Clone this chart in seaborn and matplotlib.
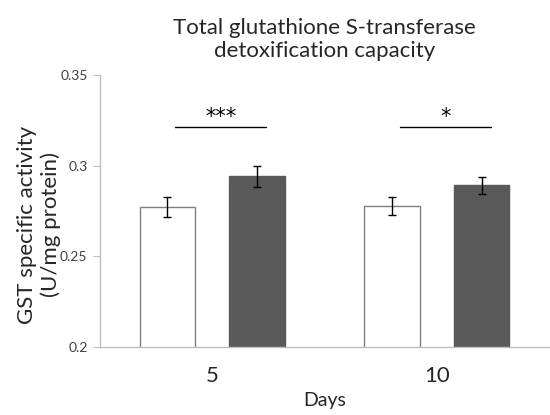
import numpy as np
import pandas as pd
import matplotlib
matplotlib.use("Agg")
import matplotlib.pyplot as plt
import seaborn as sns

# ---------------- Data ----------------
days = ["5", "10"]
groups = ["Control", "Treated"]
control_mean = [0.2771, 0.2778]
treated_mean = [0.2941, 0.2892]
control_err = [0.0056, 0.0050]
treated_err = [0.0058, 0.0048]
sig_labels = ["***", "*"]
sig_level = 0.3213

df = pd.DataFrame({
    "Days": days * 2,
    "group": [groups[0]] * 2 + [groups[1]] * 2,
    "activity": control_mean + treated_mean,
    "err": control_err + treated_err,
})

# ---------------- Plot ----------------
sns.set_style("white")
plt.rcParams["font.family"] = ["Lato", "DejaVu Sans"]

fig = plt.figure(figsize=(5.5, 4.15), dpi=100)
ax = fig.add_axes([0.182, 0.164, 0.816, 0.655])

sns.barplot(data=df, x="Days", y="activity", hue="group", order=days,
            hue_order=groups, palette=["white", "#595959"], width=0.8,
            gap=0.38, edgecolor="#7f7f7f", linewidth=1.0, legend=False,
            errorbar=None, ax=ax)

# white bars keep a grey outline, dark bars none
for p, g in zip(ax.patches, [groups[0]] * 2 + [groups[1]] * 2):
    if g == groups[1]:
        p.set_edgecolor("#595959")

# error bars from patch positions
errs = control_err + treated_err
for p, e in zip(ax.patches, errs):
    xc = p.get_x() + p.get_width() / 2
    ax.errorbar(xc, p.get_height(), yerr=e, fmt="none", ecolor="black",
                elinewidth=1.0, capsize=3, capthick=1.0)

# significance brackets
for i, lab in enumerate(sig_labels):
    ax.plot([i - 0.165, i + 0.24], [sig_level, sig_level], color="black", lw=1.0)
    ax.text(i + 0.04, sig_level + 0.0003, lab, ha="center", va="bottom",
            fontsize=15, color="black", family="DejaVu Sans")

ax.set_ylim(0.2, 0.35)
ax.set_xlim(-0.5, 1.5)
ax.set_yticks([0.2, 0.25, 0.3, 0.35])
ax.set_yticklabels(["0.2", "0.25", "0.3", "0.35"], fontsize=10, color="#404040")
ax.set_xticks([0, 1])
ax.set_xticklabels(days, fontsize=16)
ax.set_xticks([0.5], minor=True)
ax.tick_params(axis="x", which="major", length=0, pad=14)
ax.tick_params(axis="x", which="minor", length=5, color="#bfbfbf", direction="out")
ax.tick_params(axis="y", length=5, color="#bfbfbf", direction="out", left=True, pad=4)

for s in ["top", "right"]:
    ax.spines[s].set_visible(False)
for s in ["left", "bottom"]:
    ax.spines[s].set_color("#bfbfbf")
    ax.spines[s].set_linewidth(1.0)

ax.set_xlabel("Days", fontsize=14, labelpad=4)
ax.set_ylabel("GST specific activity\n(U/mg protein)", fontsize=16)
ax.yaxis.set_label_coords(-0.088, 0.45)
ax.set_title("Total glutathione S-transferase\ndetoxification capacity",
             fontsize=16, pad=13)

plt.savefig("out.png", dpi=100)
